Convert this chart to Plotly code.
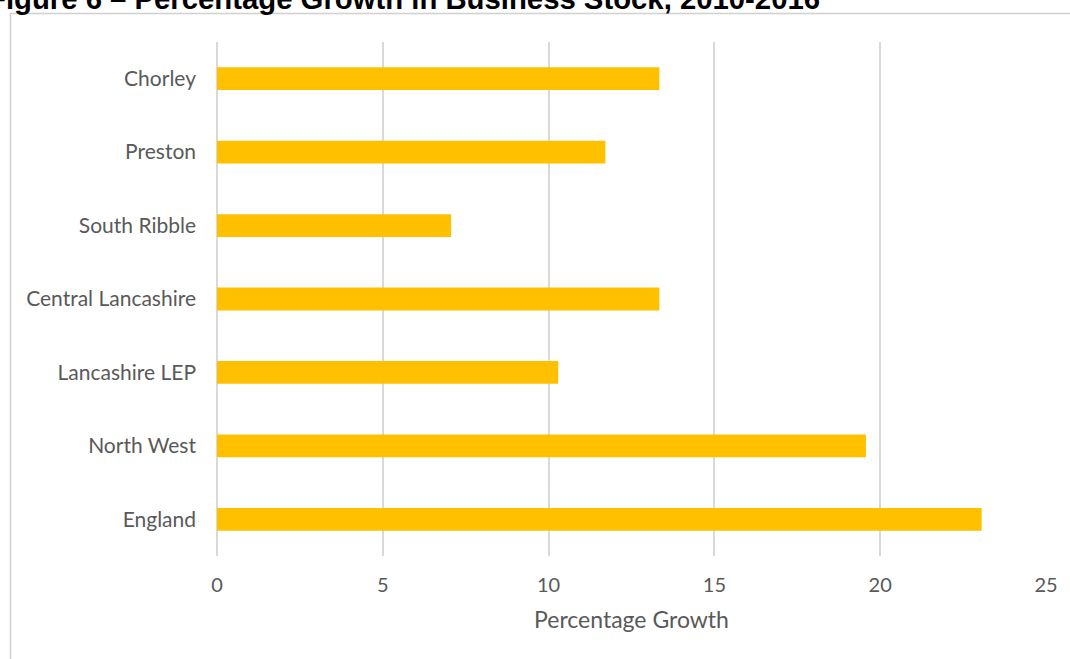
import plotly.graph_objects as go

categories = ["Chorley", "Preston", "South Ribble", "Central Lancashire",
              "Lancashire LEP", "North West", "England"]
growth = [13.34, 11.71, 7.06, 13.34, 10.29, 19.57, 23.06]
x_ticks = [0, 5, 10, 15, 20, 25]
title_text = "Figure 6 – Percentage Growth in Business Stock, 2010-2016"
x_title = "Percentage Growth"

W, H = 1070, 659
L, R, T, B = 217, 24, 42, 103
pw, ph = W - L - R, H - T - B

def px_to_paper_x(px):
    return (px - L) / pw

def px_to_paper_y(py):
    return (H - B - py) / ph

fig = go.Figure(go.Bar(
    x=growth, y=categories, orientation="h",
    marker=dict(color="#FFC000", line=dict(width=0)),
    hoverinfo="x+y",
))

fig.update_layout(
    width=W, height=H,
    margin=dict(l=L, r=R, t=T, b=B, autoexpand=False),
    paper_bgcolor="white", plot_bgcolor="white",
    bargap=0.69,
    showlegend=False,
    font=dict(family="Lato, Open Sans, sans-serif", color="#595959", size=21),
)

fig.update_yaxes(
    categoryorder="array", categoryarray=categories[::-1],
    showgrid=False, showline=False, zeroline=False,
    ticks="", ticklabelstandoff=20,
    tickfont=dict(size=21, color="#595959"),
)
fig.update_xaxes(
    range=[0, 25], tickvals=x_ticks, ticktext=[str(v) for v in x_ticks],
    showgrid=True, gridcolor="#d9d9d9", gridwidth=1.5,
    zeroline=True, zerolinecolor="#d9d9d9", zerolinewidth=1.5,
    showline=False, ticks="", ticklabelstandoff=15,
    tickfont=dict(size=20, color="#595959"),
    title=dict(text=x_title, font=dict(size=23, color="#595959"), standoff=16),
)

# chart border box
fig.add_shape(
    type="rect", xref="paper", yref="paper",
    x0=px_to_paper_x(10.5), x1=px_to_paper_x(1075),
    y0=px_to_paper_y(665), y1=px_to_paper_y(13.5),
    line=dict(color="#d0d0d0", width=1.5), fillcolor="rgba(0,0,0,0)",
    layer="below",
)

# clipped title
fig.add_annotation(
    text="<b>" + title_text + "</b>",
    xref="paper", yref="paper",
    x=px_to_paper_x(-14), y=px_to_paper_y(-2),
    xanchor="left", yanchor="middle",
    showarrow=False,
    font=dict(family="Liberation Sans, Arial, sans-serif", size=29.3, color="black"),
)

fig.write_html("out.html",
               config={"displayModeBar": False},
               post_script="document.body.style.margin='0';document.body.style.overflow='hidden';")
